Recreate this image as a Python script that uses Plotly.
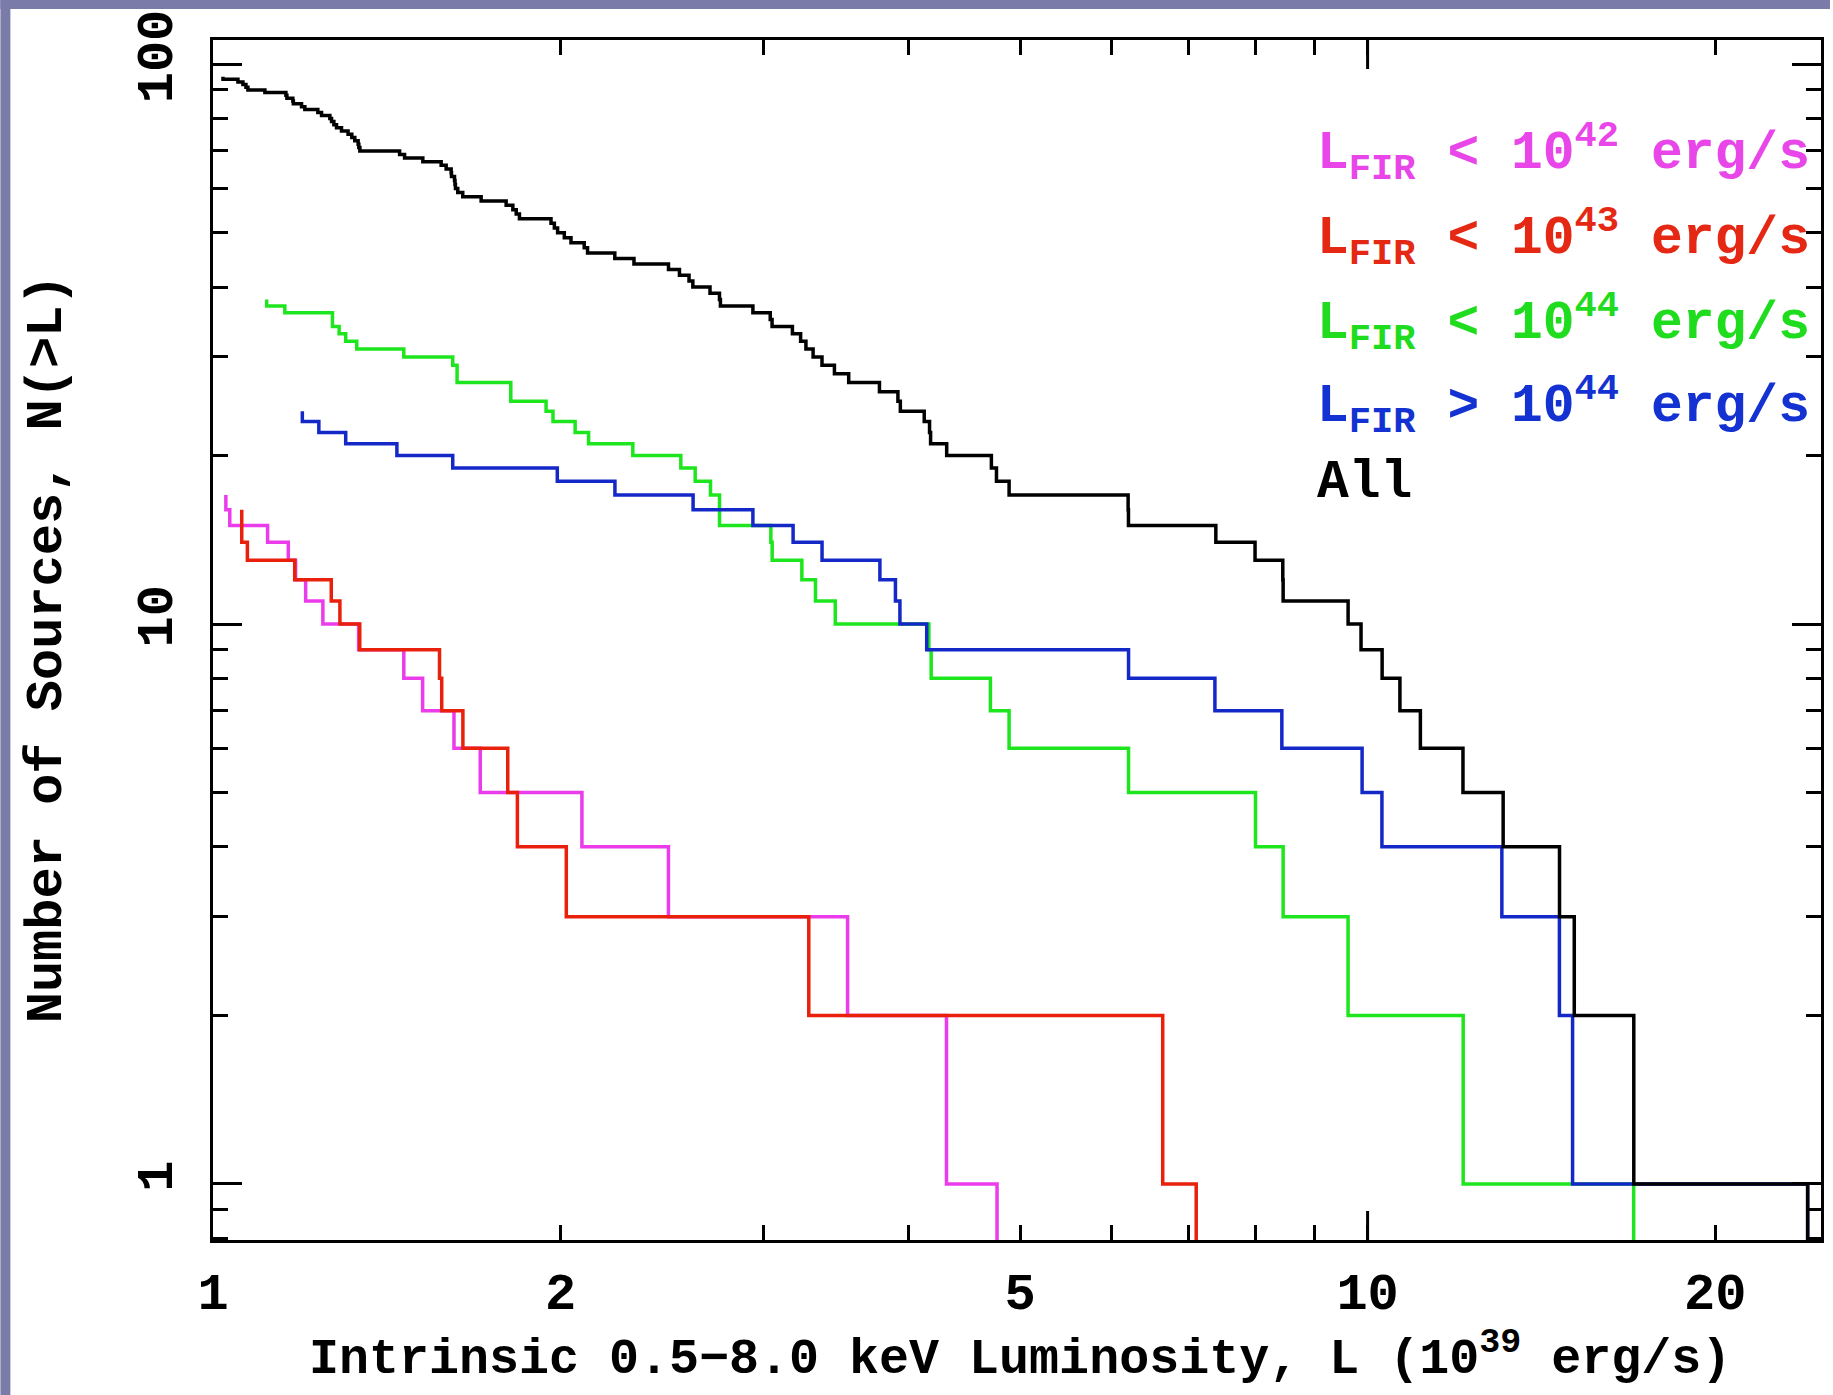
import math
import plotly.graph_objects as go

# ---------------- data ----------------
# Cumulative number of sources N(>L); each entry: luminosity (1e39 erg/s) where the
# step occurs and the count level after it (0 = last source).
lum_fir42 = [1.026, 1.026, 1.034, 1.115, 1.162, 1.179, 1.203, 1.245, 1.337, 1.463,
             1.519, 1.617, 1.704, 2.087, 2.480, 3.545, 4.318, 4.776]
n_fir42 = [17, 16, 15, 14, 13, 12, 11, 10, 9, 8, 7, 6, 5, 4, 3, 2, 1, 0]

lum_fir43 = [1.059, 1.059, 1.071, 1.177, 1.266, 1.288, 1.340, 1.571, 1.578, 1.646,
             1.800, 1.835, 2.023, 3.281, 6.646, 7.105]
n_fir43 = [16, 14, 13, 12, 11, 10, 9, 8, 7, 6, 5, 4, 3, 2, 1, 0]

lum_fir44 = [1.113, 1.113, 1.154, 1.269, 1.286, 1.303, 1.332, 1.463, 1.613, 1.627,
             1.811, 1.943, 1.970, 2.059, 2.115, 2.310, 2.542, 2.616, 2.697, 2.746,
             3.042, 3.050, 3.236, 3.325, 3.459, 4.169, 4.188, 4.713, 4.892, 6.208,
             7.997, 8.450, 9.618, 12.10, 17.00]
n_fir44 = [38, 37, 36, 34, 33, 32, 31, 30, 29, 27,
           25, 24, 23, 22, 21, 20, 19, 18, 17, 15,
           14, 13, 12, 11, 10, 9, 8, 7, 6, 5,
           4, 3, 2, 1, 0]

lum_fir44up = [1.195, 1.195, 1.235, 1.303, 1.443, 1.613, 1.987, 2.229, 2.605, 2.935,
               3.180, 3.369, 3.781, 3.900, 3.935, 4.151, 6.208, 7.375, 8.428, 9.891,
               10.29, 13.07, 14.66, 15.05, 24.05]
n_fir44up = [24, 23, 22, 21, 20, 19, 18, 17, 16, 15,
             14, 13, 12, 11, 10, 9, 8, 7, 6, 5,
             4, 3, 2, 1, 0]

lum_all = [1.0201, 1.0201, 1.0510, 1.0615, 1.0679, 1.0721, 1.1090, 1.1565, 1.1588, 1.1726,
           1.1738, 1.1931, 1.2010, 1.2325, 1.2417, 1.2624, 1.2667, 1.2726, 1.2793, 1.2921,
           1.3091, 1.3189, 1.3268, 1.3357, 1.3375, 1.3403, 1.4508, 1.4653, 1.5196, 1.5762,
           1.5920, 1.6079, 1.6090, 1.6187, 1.6203, 1.6218, 1.6293, 1.6455, 1.7070, 1.7943,
           1.8184, 1.8307, 1.8425, 1.9622, 1.9754, 1.9882, 2.0150, 2.0420, 2.0966, 2.1106,
           2.2284, 2.3153, 2.4803, 2.5351, 2.5840, 2.6037, 2.6944, 2.7458, 2.7509, 2.9350,
           3.0382, 3.0494, 3.1757, 3.2280, 3.2624, 3.3094, 3.3686, 3.4532, 3.5529, 3.7776,
           3.9193, 3.9383, 4.1305, 4.1745, 4.1832, 4.3197, 4.7224, 4.7705, 4.8922, 6.2028,
           6.2071, 7.3885, 7.9894, 8.4441, 8.4500, 9.6186, 9.8700, 10.294, 10.666, 11.110,
           12.095, 13.104, 14.663, 15.101, 17.004, 24.052]
n_all = [95, 94, 93, 92, 91, 90, 89, 88, 87, 86,
         85, 84, 83, 82, 81, 80, 79, 78, 77, 76,
         75, 74, 73, 72, 71, 70, 69, 68, 67, 66,
         65, 64, 63, 62, 61, 60, 59, 58, 57, 56,
         55, 54, 53, 52, 51, 50, 49, 48, 47, 46,
         45, 44, 43, 42, 41, 40, 39, 38, 37, 36,
         35, 34, 33, 32, 31, 30, 29, 28, 27, 26,
         25, 24, 23, 22, 21, 20, 19, 18, 17, 16,
         15, 14, 13, 12, 11, 10, 9, 8, 7, 6,
         5, 4, 3, 2, 1, 0]

series_labels = ["L<sub>FIR</sub> &lt; 10<sup>42</sup> erg/s",
                 "L<sub>FIR</sub> &lt; 10<sup>43</sup> erg/s",
                 "L<sub>FIR</sub> &lt; 10<sup>44</sup> erg/s",
                 "L<sub>FIR</sub> &gt; 10<sup>44</sup> erg/s",
                 "All"]

x_tick_vals = [1, 2, 5, 10, 20]
x_tick_text = ["1", "2", "5", "10", "20"]
x_minor_vals = [3, 4, 6, 7, 8, 9]
y_tick_vals = [1, 10, 100]
y_tick_text = ["1", "10", "100"]
y_minor_vals = [0.8, 0.9, 2, 3, 4, 5, 6, 7, 8, 9, 20, 30, 40, 50, 60, 70, 80, 90]

X_RANGE = (1.0, 24.7)
Y_RANGE = (0.794, 110.5)

# ---------------- styling / layout ----------------
FIG_W, FIG_H = 1833, 1395
M_L, M_R, M_T, M_B = 213, 9, 40, 155
PW = FIG_W - M_L - M_R
PH = FIG_H - M_T - M_B
FONT = "Liberation Mono"
BORDER = "#7b7ba9"
N_FLOOR = 0.3  # where "zero" is drawn on the log axis (below the frame)
LW = 3.5

colors = ["#eb3ceb", "#e8200c", "#1ee61e", "#1428c8", "#000000"]
text_colors = ["#e846e8", "#e42814", "#1fdc1f", "#1432d2", "#000000"]

fig = go.Figure()
for lum, cnt, col in [(lum_fir42, n_fir42, colors[0]),
                      (lum_fir43, n_fir43, colors[1]),
                      (lum_fir44, n_fir44, colors[2]),
                      (lum_fir44up, n_fir44up, colors[3]),
                      (lum_all, n_all, colors[4])]:
    fig.add_trace(go.Scatter(
        x=lum, y=[c if c > 0 else N_FLOOR for c in cnt],
        mode="lines", line=dict(color=col, width=LW, shape="hv"),
        hoverinfo="skip", showlegend=False))

axis_common = dict(
    type="log", ticks="inside", tickwidth=3, tickcolor="black",
    showline=True, linewidth=3, linecolor="black", mirror="ticks",
    showgrid=False, zeroline=False,
    tickfont=dict(family=FONT, size=52, color="black", weight="bold"),
)

fig.update_layout(
    width=FIG_W, height=FIG_H,
    margin=dict(l=M_L, r=M_R, t=M_T, b=M_B, pad=0),
    paper_bgcolor="white", plot_bgcolor="white",
    xaxis=dict(**axis_common,
               range=[math.log10(X_RANGE[0]), math.log10(X_RANGE[1])],
               tickvals=x_tick_vals, ticktext=x_tick_text, ticklen=15,
               ticklabelstandoff=4,
               minor=dict(tickvals=x_minor_vals, ticks="inside", ticklen=15,
                          tickwidth=3, tickcolor="black", showgrid=False)),
    yaxis=dict(**axis_common,
               range=[math.log10(Y_RANGE[0]), math.log10(Y_RANGE[1])],
               tickvals=y_tick_vals, ticktext=y_tick_text, ticklen=29,
               tickangle=-90, ticklabelstandoff=17,
               minor=dict(tickvals=y_minor_vals, ticks="inside", ticklen=15,
                          tickwidth=3, tickcolor="black", showgrid=False)),
)

shapes = []
# long major tick at 10 on bottom and top x axes
for anchor, sgn in [(0, 1), (1, -1)]:
    shapes.append(dict(type="line", xref="x", yref="paper", ysizemode="pixel",
                       yanchor=anchor, x0=10, x1=10, y0=0, y1=sgn * 29,
                       line=dict(color="black", width=3)))
# purple frame strips (top and left)
shapes.append(dict(type="rect", xref="paper", yref="paper", layer="above",
                   x0=-M_L / PW, x1=(10 - M_L) / PW,
                   y0=-M_B / PH, y1=1 + M_T / PH,
                   line=dict(width=0), fillcolor=BORDER))
shapes.append(dict(type="rect", xref="paper", yref="paper", layer="above",
                   x0=-M_L / PW, x1=1 + M_R / PW,
                   y0=1 + (M_T - 9) / PH, y1=1 + M_T / PH,
                   line=dict(width=0), fillcolor=BORDER))
fig.update_layout(shapes=shapes)


def px_x(X):
    return (X - M_L) / PW


def px_y(Y):
    return (M_T + PH - Y) / PH


annotations = []
legend_y = [153, 237, 322, 405, 483]
for lab, col, ly in zip(series_labels, text_colors, legend_y):
    annotations.append(dict(
        text=lab, xref="paper", yref="paper", x=px_x(1317), y=px_y(ly),
        xanchor="left", yanchor="middle", showarrow=False,
        font=dict(family=FONT, size=53, color=col, weight="bold")))

annotations.append(dict(
    text="Intrinsic 0.5\u22128.0 keV Luminosity, L (10<sup>39</sup> erg/s)",
    xref="paper", yref="paper", x=px_x(1022), y=px_y(1355),
    xanchor="center", yanchor="middle", showarrow=False,
    font=dict(family=FONT, size=50, color="black", weight="bold")))
annotations.append(dict(
    text="Number of Sources, N(&gt;L)",
    xref="paper", yref="paper", x=px_x(47), y=px_y(649), textangle=-90,
    xanchor="center", yanchor="middle", showarrow=False,
    font=dict(family=FONT, size=52, color="black", weight="bold")))
fig.update_layout(annotations=annotations)

fig.write_html("out.html", config={"displayModeBar": False})
